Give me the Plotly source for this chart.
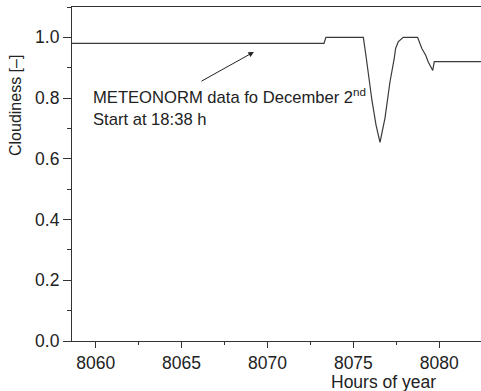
import plotly.graph_objects as go

# Data
hours = [8058.62, 8073.29, 8073.40, 8075.58, 8075.73, 8075.87, 8076.08, 8076.32,
         8076.55, 8076.84, 8077.13, 8077.38, 8077.46, 8077.61, 8077.90, 8078.74,
         8078.98, 8079.21, 8079.36, 8079.62, 8079.71, 8082.43]
cloudiness = [0.98, 0.98, 1.00, 1.00, 0.941, 0.875, 0.793, 0.711,
              0.654, 0.734, 0.853, 0.931, 0.964, 0.985, 1.00, 1.00,
              0.964, 0.941, 0.919, 0.891, 0.92, 0.92]

x_ticks = [8060, 8065, 8070, 8075, 8080]
y_ticks = [0.0, 0.2, 0.4, 0.6, 0.8, 1.0]

FONT = "Liberation Sans, Arial, sans-serif"
INK = "#222222"

fig = go.Figure()
fig.add_trace(go.Scatter(x=hours, y=cloudiness, mode="lines",
                         line=dict(color="#3a3a3a", width=1.2),
                         showlegend=False, hoverinfo="skip"))

# Arrow
fig.add_annotation(x=8069.21, y=0.952, ax=8066.07, ay=0.853,
                   xref="x", yref="y", axref="x", ayref="y",
                   text="", showarrow=True, arrowhead=2, arrowsize=1.1,
                   arrowwidth=1, arrowcolor="#222222")
# Label
fig.add_annotation(x=8059.72, y=0.770, xref="x", yref="y",
                   xanchor="left", yanchor="middle", align="left",
                   text="METEONORM data fo December 2<sup>nd</sup><br>Start at 18:38 h",
                   showarrow=False, font=dict(family=FONT, size=16.6, color=INK))
# Axis titles
fig.add_annotation(x=(383 - 72) / 409, y=-(382 - 341) / 334, xref="paper", yref="paper",
                   xanchor="center", yanchor="middle", text="Hours of year",
                   showarrow=False, borderpad=0,
                   font=dict(family=FONT, size=17.5, color=INK))
fig.add_annotation(x=(16 - 72) / 409, y=(341 - 106) / 334, xref="paper", yref="paper",
                   xanchor="center", yanchor="middle", text="Cloudiness [–]",
                   textangle=-90, showarrow=False,
                   font=dict(family=FONT, size=16, color=INK))

fig.update_layout(
    width=481, height=391,
    margin=dict(l=72, r=0, t=7, b=50),
    paper_bgcolor="white", plot_bgcolor="white",
    font=dict(family=FONT, size=17.5, color=INK),
    xaxis=dict(range=[8058.62, 8082.43], tickvals=x_ticks,
               ticktext=[str(v) for v in x_ticks],
               showgrid=False, zeroline=False, showline=True, mirror=True,
               linecolor="#333333", linewidth=1.2,
               ticks="outside", ticklen=6, tickwidth=1, tickcolor="#333333",
               minor=dict(dtick=2.5, tick0=8057.5, ticks="outside", ticklen=3,
                          tickcolor="#333333", showgrid=False),
               tickfont=dict(size=17.5)),
    yaxis=dict(range=[0, 1.1], tickvals=y_ticks,
               ticktext=[f"{v:.1f}" for v in y_ticks],
               showgrid=False, zeroline=False, showline=True,
               linecolor="#333333", linewidth=1.2,
               ticks="outside", ticklen=8, tickwidth=1, tickcolor="#333333",
               minor=dict(dtick=0.1, tick0=0, ticks="outside", ticklen=4,
                          tickcolor="#333333", showgrid=False),
               tickfont=dict(size=17.5)),
)

fig.write_html("out.html")
